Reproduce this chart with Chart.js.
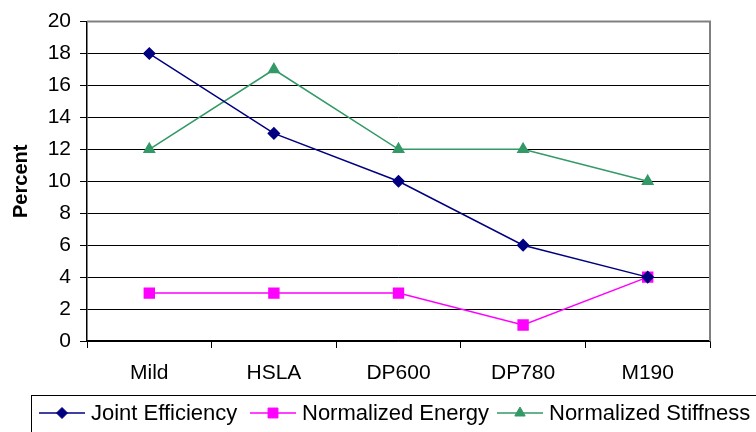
<!DOCTYPE html>
<html>
<head>
<meta charset="utf-8">
<script src="https://cdn.jsdelivr.net/npm/chart.js"></script>
<style>
  html, body { margin: 0; padding: 0; background: #fff; }
  #wrap { width: 756px; height: 432px; }
</style>
</head>
<body>
<div id="wrap"><canvas id="steelChart" width="756" height="432"></canvas></div>
<script>
const categories = ["Mild", "HSLA", "DP600", "DP780", "M190"];
const jointEfficiency = [18, 13, 10, 6, 4];
const normalizedEnergy = [3, 3, 3, 1, 4];
const normalizedStiffness = [12, 17, 12, 12, 10];
const yTicks = [0, 2, 4, 6, 8, 10, 12, 14, 16, 18, 20];

const FONT = "'Liberation Sans', Arial, sans-serif";

// gray frame on top and right of the plot, like the old Excel look
const plotFrame = {
  id: "plotFrame",
  beforeDatasetsDraw(chart) {
    const { ctx, chartArea: a } = chart;
    ctx.save();
    ctx.strokeStyle = "#808080";
    ctx.lineWidth = 2;
    ctx.beginPath();
    ctx.moveTo(a.left, a.top);
    ctx.lineTo(a.right, a.top);
    ctx.lineTo(a.right, a.bottom);
    ctx.stroke();
    ctx.restore();
  }
};

// boxed legend with line + marker samples
const boxLegend = {
  id: "boxLegend",
  afterDraw(chart) {
    const ctx = chart.ctx;
    const starts = [39, 250, 497];
    const y = 413;
    ctx.save();
    ctx.strokeStyle = "#000";
    ctx.lineWidth = 1;
    ctx.strokeRect(31.5, 395.5, 800, 100);
    ctx.font = "22px " + FONT;
    ctx.textBaseline = "middle";
    ctx.fillStyle = "#000";
    chart.data.datasets.forEach((ds, i) => {
      const x = starts[i];
      ctx.strokeStyle = ds.borderColor;
      ctx.lineWidth = 1.5;
      ctx.beginPath();
      ctx.moveTo(x, y);
      ctx.lineTo(x + 46, y);
      ctx.stroke();
      ctx.fillStyle = ds.pointBackgroundColor;
      ctx.strokeStyle = ds.borderColor;
      ctx.lineWidth = 1;
      Chart.helpers.drawPoint(ctx, { pointStyle: ds.pointStyle, radius: ds.pointRadius, borderWidth: 1 }, x + 23, y);
      ctx.fillStyle = "#000";
      ctx.fillText(ds.label, x + 52, y + 1);
    });
    ctx.restore();
  }
};

new Chart(document.getElementById("steelChart"), {
  type: "line",
  data: {
    labels: categories,
    datasets: [
      {
        label: "Joint Efficiency",
        data: jointEfficiency,
        borderColor: "#000080",
        backgroundColor: "#000080",
        pointBackgroundColor: "#000080",
        pointStyle: "rectRot",
        pointRadius: 5.5,
        borderWidth: 1.5,
        fill: false,
        tension: 0
      },
      {
        label: "Normalized Energy",
        data: normalizedEnergy,
        borderColor: "#FF00FF",
        backgroundColor: "#FF00FF",
        pointBackgroundColor: "#FF00FF",
        pointStyle: "rect",
        pointRadius: 7,
        borderWidth: 1.5,
        fill: false,
        tension: 0
      },
      {
        label: "Normalized Stiffness",
        data: normalizedStiffness,
        borderColor: "#339966",
        backgroundColor: "#339966",
        pointBackgroundColor: "#339966",
        pointStyle: "triangle",
        pointRadius: 6,
        borderWidth: 1.5,
        fill: false,
        tension: 0
      }
    ]
  },
  options: {
    responsive: false,
    animation: false,
    devicePixelRatio: 1,
    layout: { padding: { top: 19, right: 46, left: 0, bottom: 0 } },
    plugins: {
      legend: { display: false },
      tooltip: { enabled: false }
    },
    scales: {
      x: {
        offset: true,
        afterFit: s => { s.height = 91; },
        grid: {
          offset: true,
          drawOnChartArea: false,
          drawTicks: true,
          tickLength: 7,
          color: "#000",
          tickColor: "#000"
        },
        border: { color: "#000", width: 1.5 },
        ticks: {
          color: "#000",
          padding: 13,
          font: { family: FONT, size: 21 }
        }
      },
      y: {
        min: 0,
        max: 20,
        afterFit: s => { s.width = 87; },
        afterBuildTicks: s => { s.ticks = yTicks.map(v => ({ value: v })); },
        grid: {
          color: "#000",
          tickColor: "#000",
          lineWidth: 1,
          tickLength: 7
        },
        border: { color: "#000", width: 1.5 },
        ticks: {
          color: "#000",
          padding: 9,
          font: { family: FONT, size: 21 }
        },
        title: {
          display: true,
          text: "Percent",
          color: "#000",
          padding: { top: 9, bottom: 0 },
          font: { family: FONT, size: 20, weight: "bold" }
        }
      }
    }
  },
  plugins: [plotFrame, boxLegend]
});
</script>
</body>
</html>
